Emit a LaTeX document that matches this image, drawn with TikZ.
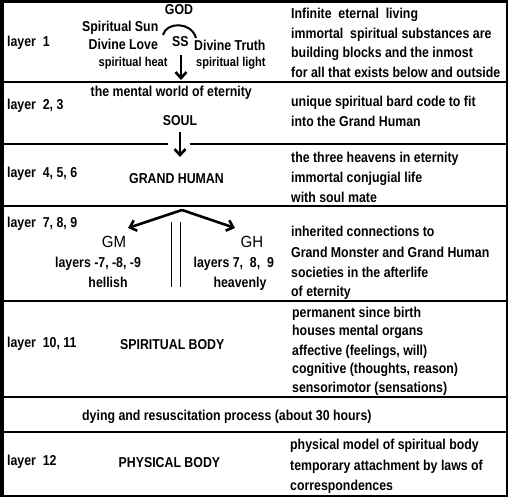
\documentclass[tikz,border=0pt]{standalone}
\usepackage{fontspec}
\setmainfont{Liberation Sans}
\newfontfamily\condfont{Liberation Sans}[FakeStretch=0.86]
\newfontfamily\bigfont{Liberation Sans}[FakeStretch=0.93]
\usetikzlibrary{arrows.meta}
\tikzset{
  txt/.style={font=\condfont\bfseries\fontsize{14.4}{16}\selectfont, inner sep=0pt, anchor=base west},
  ctxt/.style={txt, anchor=base},
  sml/.style={font=\condfont\bfseries\fontsize{12.9}{15}\selectfont, inner sep=0pt, anchor=base west},
  big/.style={font=\bigfont\fontsize{16.2}{18}\selectfont, inner sep=0pt, anchor=base},
  rule/.style={line width=1.4bp},
  arr/.style={line width=2.6bp, -{Straight Barb[length=6bp,width=11bp]}},
}
\begin{document}
\begin{tikzpicture}[x=1bp,y=-1bp]
\useasboundingbox (0,0) rectangle (509,504);
% frame
\draw[line width=3.5bp] (1.75,0) -- (1.75,497);
\draw[line width=3bp] (0,1.5) -- (507.5,1.5);
\draw[line width=2bp] (506.5,0) -- (506.5,497);
\draw[line width=2bp] (0,496) -- (507.5,496);
% horizontal rules
\coordinate (h1l) at (3,82);   \coordinate (h1r) at (506,82);
\coordinate (h2l) at (3,144);  \coordinate (h2a) at (168,144);
\coordinate (h2b) at (190,144); \coordinate (h2r) at (506,144);
\coordinate (h3l) at (3,206);  \coordinate (h3r) at (506,206);
\coordinate (h4l) at (3,301);  \coordinate (h4r) at (506,301);
\coordinate (h5l) at (3,397);  \coordinate (h5r) at (506,397);
\coordinate (h6l) at (3,432);  \coordinate (h6r) at (506,432);
\draw[rule] (h1l) -- (h1r);
\draw[rule] (h2l) -- (h2a);
\draw[rule] (h2b) -- (h2r);
\draw[rule] (h3l) -- (h3r);
\draw[rule] (h4l) -- (h4r);
\draw[rule] (h5l) -- (h5r);
\draw[rule] (h6l) -- (h6r);
% layer labels
\node[txt] (l1) at (7,47) {layer~ 1};
\node[txt] (l2) at (7,110) {layer~ 2, 3};
\node[txt] (l3) at (7,178) {layer~ 4, 5, 6};
\node[txt] (l4) at (7,227) {layer~ 7, 8, 9};
\node[txt] (l5) at (7,347) {layer~ 10, 11};
\node[txt] (l6) at (7,465) {layer~ 12};
% layer 1 centre
\node[ctxt] (god) at (179,15) {GOD};
\node[txt] (ssun) at (82,32) {Spiritual Sun};
\node[txt] (dlove) at (88.5,50) {Divine Love};
\node[txt] (ss) at (172,47) {SS};
\node[txt] (dtruth) at (194,51) {Divine Truth};
\node[sml] (sheat) at (98.5,67) {spiritual heat};
\node[sml] (slight) at (196,67) {spiritual light};
\coordinate (arcL) at (163,35);
\coordinate (arcR) at (196,38);
\draw[line width=2bp] (arcL) .. controls (166,22) and (191,21) .. (arcR);
\coordinate (a1s) at (181,55);
\coordinate (a1e) at (181,80);
\draw[arr] (a1s) -- (a1e);
% layer 2,3
\node[txt] (mental) at (90.5,97) {the mental world of eternity};
\node[ctxt] (soul) at (180,126) {SOUL};
\coordinate (a2s) at (180,132);
\coordinate (a2e) at (180,157);
\draw[arr] (a2s) -- (a2e);
% layer 4-6
\node[ctxt] (gh) at (176.5,184) {GRAND HUMAN};
% layer 7-9
\coordinate (apex) at (182,210);
\coordinate (tipL) at (128,228);
\coordinate (tipR) at (235,228);
\draw[arr] (apex) -- (tipL);
\draw[arr] (apex) -- (tipR);
\coordinate (v1t) at (171.5,222); \coordinate (v1b) at (171.5,287);
\coordinate (v2t) at (180.5,222); \coordinate (v2b) at (180.5,287);
\draw[line width=1.6bp] (v1t) -- (v1b);
\draw[line width=1.6bp] (v2t) -- (v2b);
\node[big] (gm) at (114,247) {GM};
\node[txt] (gmlay) at (55,267) {layers -7, -8, -9};
\node[ctxt] (hell) at (108,287) {hellish};
\node[big] (ghh) at (252,247) {GH};
\node[txt] (ghlay) at (193.5,267) {layers 7,~ 8,~ 9};
\node[ctxt] (heav) at (240,287) {heavenly};
% layer 10-11, dying, 12
\node[txt] (sb) at (120,349) {SPIRITUAL BODY};
\node[txt] (dying) at (82,420) {dying and resuscitation process (about 30 hours)};
\node[txt] (pb) at (118.5,467) {PHYSICAL BODY};
% right column
\node[txt] (r1a) at (291,19) {Infinite~ eternal~ living};
\node[txt] (r1b) at (291,38.5) {immortal~ spiritual substances are};
\node[txt] (r1c) at (291,58) {building blocks and the inmost};
\node[txt] (r1d) at (291,77.5) {for all that exists below and outside};
\node[txt] (r2a) at (291,107) {unique spiritual bard code to fit};
\node[txt] (r2b) at (291,127) {into the Grand Human};
\node[txt] (r3a) at (291,163) {the three heavens in eternity};
\node[txt] (r3b) at (291,183) {immortal conjugial life};
\node[txt] (r3c) at (291,203) {with soul mate};
\node[txt] (r4a) at (291,236) {inherited connections to};
\node[txt] (r4b) at (291,257) {Grand Monster and Grand Human};
\node[txt] (r4c) at (291,277) {societies in the afterlife};
\node[txt] (r4d) at (291,296) {of eternity};
\node[txt] (r5a) at (292,317) {permanent since birth};
\node[txt] (r5b) at (292,335) {houses mental organs};
\node[txt] (r5c) at (292,355) {affective (feelings, will)};
\node[txt] (r5d) at (292,373) {cognitive (thoughts, reason)};
\node[txt] (r5e) at (292,392) {sensorimotor (sensations)};
\node[txt] (r6a) at (290,449) {physical model of spiritual body};
\node[txt] (r6b) at (290,470) {temporary attachment by laws of};
\node[txt] (r6c) at (290,490) {correspondences};
\end{tikzpicture}
\end{document}
